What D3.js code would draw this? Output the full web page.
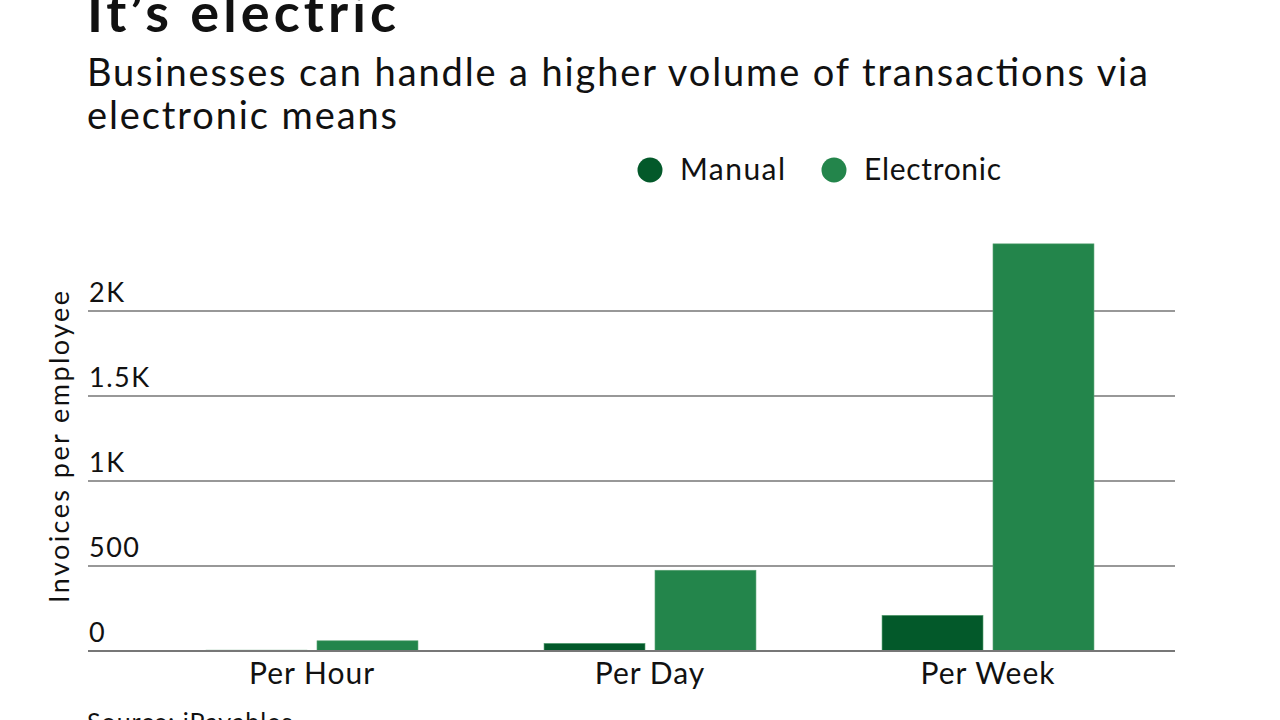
<!DOCTYPE html>
<html>
<head>
<meta charset="utf-8">
<script src="https://cdn.jsdelivr.net/npm/d3@7"></script>
<style>
  body { margin: 0; background: #fff; }
  text { font-family: Lato, "Noto Sans", sans-serif; fill: #111; }
</style>
</head>
<body>
<script>
const categories = ['Per Hour', 'Per Day', 'Per Week'];
const seriesNames = ['Manual', 'Electronic'];
const manual = [5, 45, 210];
const electronic = [60, 475, 2395];
const yTicks = [0, 500, 1000, 1500, 2000];
const yTickLabels = ['0', '500', '1K', '1.5K', '2K'];
const colors = ['#03592a', '#23854b'];

const w = 1280, h = 720;

const svg = d3.select('body').append('svg')
  .attr('width', w)
  .attr('height', h);

// stretch a text to the width it has in the original design
function fit(sel, len) {
  return sel.attr('textLength', len).attr('lengthAdjust', 'spacing');
}

// titles
fit(svg.append('text')
  .attr('x', 87).attr('y', 32)
  .attr('font-size', 54).attr('font-weight', 700)
  .text('It’s electric'), 309);

fit(svg.append('text')
  .attr('x', 87).attr('y', 86)
  .attr('font-size', 38)
  .text('Businesses can handle a higher volume of transactions via'), 1061);
fit(svg.append('text')
  .attr('x', 87).attr('y', 129)
  .attr('font-size', 38)
  .text('electronic means'), 310);

// legend
const legendX = [650, 834];
const legendLen = [105, 137];
const legend = svg.selectAll('g.legend')
  .data(seriesNames)
  .join('g')
  .attr('class', 'legend')
  .attr('transform', (d, i) => `translate(${legendX[i]},170)`);
legend.append('circle').attr('r', 12.5).attr('fill', (d, i) => colors[i]);
legend.append('text')
  .attr('x', 30).attr('y', 10)
  .attr('font-size', 30)
  .attr('textLength', (d, i) => legendLen[i])
  .attr('lengthAdjust', 'spacing')
  .text(d => d);

// scales
const y = d3.scaleLinear().domain([0, 2000]).range([651, 311]);

const x0 = d3.scaleBand()
  .domain(categories)
  .range([143, 1157])
  .paddingInner(0.373)
  .paddingOuter(0.1865);

const x1 = d3.scaleBand()
  .domain(seriesNames)
  .range([0, x0.bandwidth()])
  .paddingInner(0.09);

// gridlines
svg.append('g')
  .selectAll('line')
  .data(yTicks.filter(d => d > 0))
  .join('line')
  .attr('x1', 88).attr('x2', 1175)
  .attr('y1', d => y(d)).attr('y2', d => y(d))
  .attr('stroke', '#333').attr('stroke-width', 1.2);

// y labels
svg.append('g')
  .selectAll('text')
  .data(yTicks)
  .join('text')
  .attr('x', 89)
  .attr('y', d => y(d) - 9)
  .attr('font-size', 27)
  .attr('letter-spacing', 1.5)
  .text((d, i) => yTickLabels[i]);

// y title
fit(svg.append('text')
  .attr('transform', 'translate(69,447) rotate(-90)')
  .attr('x', -156)
  .attr('font-size', 27)
  .text('Invoices per employee'), 312);

// bars
const groups = svg.append('g')
  .selectAll('g')
  .data(categories)
  .join('g')
  .attr('transform', d => `translate(${x0(d)},0)`);

groups.selectAll('rect')
  .data((d, i) => [
    { key: 'Manual', value: manual[i] },
    { key: 'Electronic', value: electronic[i] }
  ])
  .join('rect')
  .attr('x', d => x1(d.key))
  .attr('width', x1.bandwidth())
  .attr('y', d => y(d.value))
  .attr('height', d => y(0) - y(d.value))
  .attr('fill', (d, i) => colors[i])
  .attr('stroke', '#5aa274')
  .attr('stroke-width', 0.6);

// baseline
svg.append('line')
  .attr('x1', 88).attr('x2', 1175)
  .attr('y1', y(0)).attr('y2', y(0))
  .attr('stroke', '#777').attr('stroke-width', 2);

// x labels
const xAxis = svg.append('g')
  .attr('transform', `translate(0,${y(0)})`)
  .call(d3.axisBottom(x0).tickSize(0).tickPadding(0));
xAxis.select('.domain').remove();
xAxis.selectAll('text')
  .attr('font-size', 30)
  .attr('letter-spacing', 1)
  .attr('font-family', 'Lato, "Noto Sans", sans-serif')
  .attr('fill', '#111')
  .attr('dy', 33);

// source
svg.append('text')
  .attr('x', 87).attr('y', 731)
  .attr('font-size', 25)
  .attr('letter-spacing', 1)
  .text('Source: iPayables');
</script>
</body>
</html>
